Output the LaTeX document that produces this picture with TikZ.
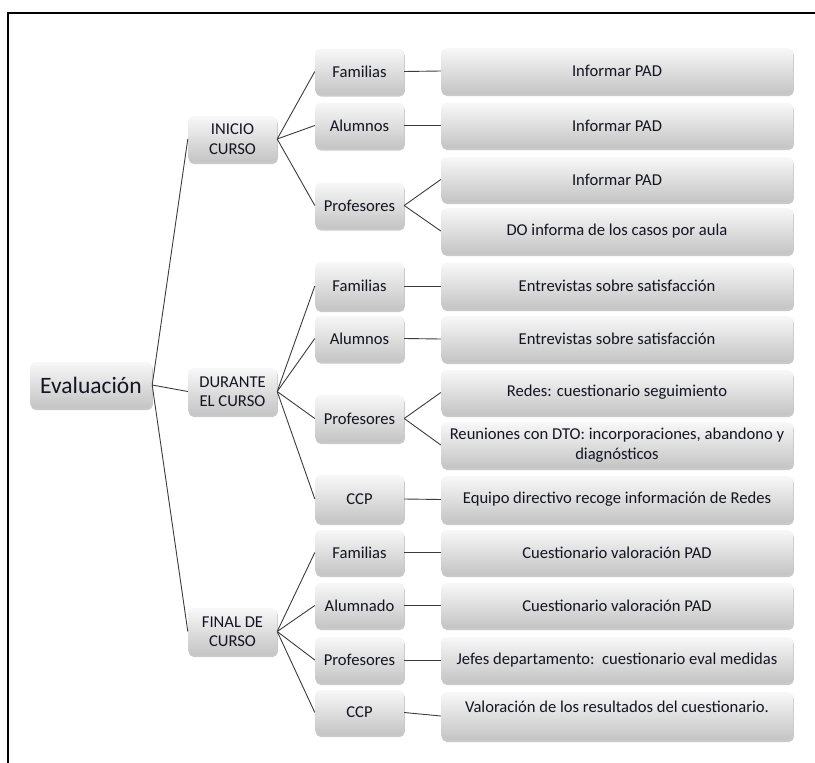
\documentclass[tikz,border=0pt]{standalone}
\usepackage{fontspec}
\setmainfont{Carlito}
\usetikzlibrary{shadows}
\definecolor{txt}{RGB}{20,20,35}
\definecolor{boxtop}{RGB}{248,248,248}
\definecolor{boxbot}{RGB}{196,196,196}
\definecolor{lnk}{RGB}{60,60,60}
\begin{document}
\begin{tikzpicture}[x=1pt,y=-1pt,
  box/.style={rounded corners=5pt, top color=boxtop, bottom color=boxbot,
    drop shadow={shadow xshift=0.8pt, shadow yshift=-2pt, opacity=0.35, fill=black!60},
    text=txt, font=\fontsize{16.6}{19.5}\selectfont, align=center, inner sep=0pt},
  evbox/.style={box, minimum width=122pt, minimum height=46pt, font=\fontsize{23.5}{26}\selectfont},
  lonebox/.style={box, minimum width=89pt, minimum height=46pt},
  ltwobox/.style={box, minimum width=89pt, minimum height=46pt},
  lthreebox/.style={box, minimum width=352pt, minimum height=46pt},
  link/.style={draw=lnk, line width=0.9pt}]
\useasboundingbox (0,0) rectangle (815,763);
\draw[line width=1.6pt] (8,770) -- (8,13) -- (820,13);

% root
\node[evbox] (ev) at (91,385) {Evaluación};

% level 1
\node[lonebox] (ini) at (232.5,139) {INICIO\\CURSO};
\node[lonebox, minimum height=47pt] (dur) at (232.5,391.5) {DURANTE\\EL CURSO};
\node[lonebox, minimum height=47pt] (fin) at (232.5,631.5) {FINAL DE\\CURSO};

% level 2 - inicio
\node[ltwobox] (ifam) at (359.5,71.5) {Familias};
\node[ltwobox] (ialu) at (359.5,125.5) {Alumnos};
\node[ltwobox] (ipro) at (359.5,205.5) {Profesores};
% level 2 - durante
\node[ltwobox, minimum height=48pt] (dfam) at (359.5,286) {Familias};
\node[ltwobox] (dalu) at (359.5,338.5) {Alumnos};
\node[ltwobox, minimum height=47pt] (dpro) at (359.5,418.5) {Profesores};
\node[ltwobox, minimum height=48pt] (dccp) at (359.5,499) {CCP};
% level 2 - final
\node[ltwobox, minimum height=45pt] (ffam) at (359.5,552.5) {Familias};
\node[ltwobox, minimum height=45pt] (falu) at (359.5,605.5) {Alumnado};
\node[ltwobox] (fpro) at (359.5,660) {Profesores};
\node[ltwobox, minimum height=45pt] (fccp) at (359.5,712.5) {CCP};

% level 3 - inicio
\node[lthreebox] (ia) at (617,71) {Informar PAD};
\node[lthreebox, minimum height=45pt] (ib) at (617,125.5) {Informar PAD};
\node[lthreebox, minimum height=45pt] (ic) at (617,179.5) {Informar PAD};
\node[lthreebox] (id) at (617,231) {DO informa de los casos por aula};
% level 3 - durante
\node[lthreebox] (da) at (617,286) {Entrevistas sobre satisfacción};
\node[lthreebox] (db) at (617,339) {Entrevistas sobre satisfacción};
\node[lthreebox, minimum height=45pt] (dc) at (617,392.5) {Redes: cuestionario seguimiento};
\node[lthreebox] (dd) at (617,445) {Reuniones con DTO: incorporaciones, abandono y\\diagnósticos};
\node[lthreebox, minimum height=47pt] (de) at (617,499.5) {Equipo directivo recoge información de Redes};
% level 3 - final
\node[lthreebox, minimum height=45pt] (fa) at (617,552.5) {Cuestionario valoración PAD};
\node[lthreebox, minimum height=45pt] (fb) at (617,605.5) {Cuestionario valoración PAD};
\node[lthreebox] (fc) at (617,660) {Jefes departamento:\ \ cuestionario eval medidas};
\node[lthreebox, minimum height=48pt] (fd) at (617,716) {Valoración de los resultados del cuestionario.\\\mbox{}};

% connectors
\draw[link] (ev.east) -- (ini.west);
\draw[link] (ev.east) -- (dur.west);
\draw[link] (ev.east) -- (fin.west);

\draw[link] (ini.east) -- (ifam.west);
\draw[link] (ini.east) -- (ialu.west);
\draw[link] (ini.east) -- (ipro.west);
\draw[link] (dur.east) -- (dfam.west);
\draw[link] (dur.east) -- (dalu.west);
\draw[link] (dur.east) -- (dpro.west);
\draw[link] (dur.east) -- (dccp.west);
\draw[link] (fin.east) -- (ffam.west);
\draw[link] (fin.east) -- (falu.west);
\draw[link] (fin.east) -- (fpro.west);
\draw[link] (fin.east) -- (fccp.west);

\draw[link] (ifam.east) -- (ia.west);
\draw[link] (ialu.east) -- (ib.west);
\draw[link] (ipro.east) -- (ic.west);
\draw[link] (ipro.east) -- (id.west);
\draw[link] (dfam.east) -- (da.west);
\draw[link] (dalu.east) -- (db.west);
\draw[link] (dpro.east) -- (dc.west);
\draw[link] (dpro.east) -- (dd.west);
\draw[link] (dccp.east) -- (de.west);
\draw[link] (ffam.east) -- (fa.west);
\draw[link] (falu.east) -- (fb.west);
\draw[link] (fpro.east) -- (fc.west);
\draw[link] (fccp.east) -- (fd.west);
\end{tikzpicture}
\end{document}
